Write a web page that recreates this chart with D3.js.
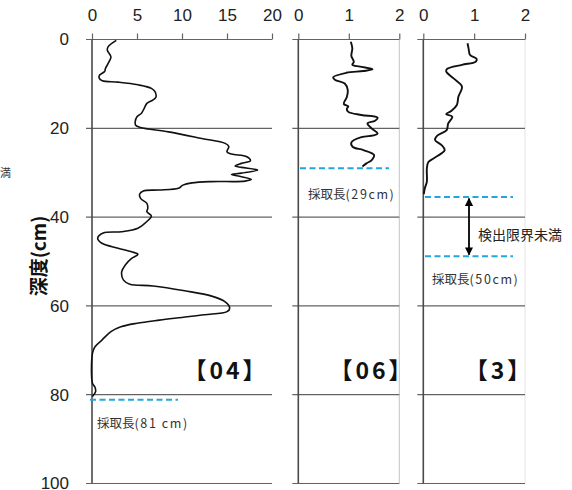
<!DOCTYPE html>
<html><head><meta charset="utf-8">
<script src="https://cdn.jsdelivr.net/npm/d3@7"></script>
<style>
html,body{margin:0;padding:0;background:#fff;}
svg{display:block;}
</style></head>
<body>
<script>
// ---- data ----
const depthTicks = [0, 20, 40, 60, 80, 100];
const ticks04 = [0, 5, 10, 15, 20];
const ticks06 = [0, 1, 2];
const ticks3 = [0, 1, 2];

const depth04 = [0.2,1.6,2.4,3.9,5,6.5,7.2,8,8.7,9.3,9.6,10.2,11,11.75,13,13.6,14.4,15.5,16.6,17.4,18.5,19.3,19.8,20.8,22.3,23.4,24.1,25.3,25.8,26.4,27.3,27.9,28.5,28.8,29.4,30.1,30.4,30.9,31.5,31.9,32.0,32.3,32.8,33.5,33.9,34.1,34.8,35.8,36.9,38,38.8,39.75,41,42.5,43.3,43.6,44.8,45.9,47,47.8,48.4,49.3,50.8,52.3,54.2,55.1,55.5,56.6,57.8,59.1,60.5,61.3,62,62.6,63.2,63.9,64.7,65.8,67.7,69.2,70.7,77.4,78.3,79.3,80.4];
const value04 = [2.7,1.8,1.7,2.1,1.9,1.5,1.4,0.85,0.8,1.15,2.9,5.1,6.6,7.0,7.1,6.8,6.1,5.8,5.5,5.0,4.8,4.85,5.4,8.5,12.2,14.8,15.2,15.0,15.5,17.2,17.6,16.6,15.9,16.6,18.4,16.6,15.5,16.6,17.7,17.0,13.3,11.1,10.1,9.6,7.4,5.7,5.3,5.4,6.1,6.2,6.1,6.6,6.1,5.1,3.3,1.25,0.63,1.1,2.9,4.4,5.1,4.4,3.7,3.3,3.5,4.2,6.8,10.3,13.3,14.8,15.3,15.0,12.5,10.0,7.5,5.0,3.2,2.1,1.1,0.33,0.05,0.05,0.33,0.4,0.05];

const depth06 = [0.5,2,3.7,5,5.7,6.1,6.7,7.1,7.5,8.5,9.1,9.9,11.4,13,14.5,15.1,15.6,16.3,17,17.6,18.3,18.9,20,21.2,21.6,22,23.2,24.2,24.9,26,27.2,27.9,28.6];
const value06 = [1.04,1.07,1.05,1.1,1.07,1.22,1.47,1.29,0.95,0.69,0.73,0.92,0.98,0.96,0.9,0.99,0.96,0.99,1.25,1.57,1.52,1.37,1.45,1.57,1.49,1.25,1.05,1.08,1.29,1.5,1.45,1.35,1.27];

const depth3 = [0.85,2,3.5,4.4,5,5.7,6.6,7.2,8.7,10.6,12.9,14.75,16.1,16.8,17.4,18.9,20.4,21.6,22.6,23.8,24.9,25.6,26.8,27.6,29,32,33.5,34.8];
const value3 = [0.87,0.89,0.92,1.05,1.03,0.76,0.47,0.45,0.59,0.76,0.69,0.66,0.55,0.45,0.57,0.49,0.46,0.28,0.23,0.36,0.42,0.36,0.2,0.1,0.07,0.07,0.03,0.01];

const sampleDepth = { p04: 81, p06: 29, p3: 48.8 };
const detectLimitTop3 = 35.5;
const panelNames = ["【04】", "【06】", "【3】"];
const sampleHeads = ["採取長", "採取長", "採取長"];
const sampleTails = ["(81 cm)", "(29cm)", "(50cm)"];
const belowLabel = "検出限界未満";
const yTitle = "深度(cm)";

// ---- drawing ----
const W = 572, H = 490;
const svg = d3.select("body").append("svg").attr("width", W).attr("height", H);
const y = d3.scaleLinear().domain([0, 100]).range([39.5, 483.5]);

const panels = [
  { x: d3.scaleLinear().domain([0, 20]).range([92, 272]), ticks: ticks04, d: depth04, v: value04, border: null },
  { x: d3.scaleLinear().domain([0, 2]).range([298.3, 399.3]), ticks: ticks06, d: depth06, v: value06, border: "#c4c4c4" },
  { x: d3.scaleLinear().domain([0, 2]).range([423.3, 525]), ticks: ticks3, d: depth3, v: value3, border: "#e4e4e4" }
];

const tickFont = "'Liberation Sans', Arial, sans-serif";
const jpFont = "'Noto Sans CJK JP', sans-serif";

panels.forEach((p, i) => {
  const g = svg.append("g");
  const x0 = p.x.range()[0], x1 = p.x.range()[1];
  if (p.border) {
    g.append("line").attr("x1", x1).attr("x2", x1).attr("y1", y(0)).attr("y2", y(100))
      .attr("stroke", p.border).attr("stroke-width", 1);
  }
  g.selectAll("line.grid").data(depthTicks).join("line").attr("class", "grid")
    .attr("x1", x0 - 6).attr("x2", x1)
    .attr("y1", d => y(d)).attr("y2", d => y(d))
    .attr("stroke", "#636363").attr("stroke-width", 1.2);
  g.append("line").attr("x1", x0).attr("x2", x0).attr("y1", y(0)).attr("y2", y(100))
    .attr("stroke", "#4a4a4a").attr("stroke-width", 1.6);
  const ax = g.append("g").attr("transform", `translate(0,${y(0)})`)
    .call(d3.axisTop(p.x).tickValues(p.ticks).tickSize(6).tickPadding(13).tickFormat(d3.format("d")));
  ax.select(".domain").remove();
  ax.selectAll(".tick line").attr("stroke", "#636363").attr("stroke-width", 1.2);
  ax.selectAll(".tick text").attr("font-family", tickFont).attr("font-size", 17).attr("fill", "#222");
  if (i === 0) {
    const ay = g.append("g").attr("transform", `translate(${x0},0)`)
      .call(d3.axisLeft(y).tickValues(depthTicks).tickSize(0).tickPadding(23));
    ay.select(".domain").remove();
    ay.selectAll(".tick text").attr("font-family", tickFont).attr("font-size", 17).attr("fill", "#222");
  }
  const line = d3.line().x((d, k) => p.x(p.v[k])).y(d => y(d)).curve(d3.curveCatmullRom.alpha(0.5));
  g.append("path").attr("d", line(p.d)).attr("fill", "none")
    .attr("stroke", "#111").attr("stroke-width", i === 0 ? 1.6 : 1.9);
});

const blue = "#21a6e0";
function dash(x1, x2, yy) {
  svg.append("line").attr("x1", x1).attr("x2", x2).attr("y1", yy).attr("y2", yy)
    .attr("stroke", blue).attr("stroke-width", 2).attr("stroke-dasharray", "6,3.5");
}
dash(90, 178, y(sampleDepth.p04) + 0.5);
dash(300, 389, y(sampleDepth.p06));
dash(425, 513, y(detectLimitTop3));
dash(425, 513, y(sampleDepth.p3));

const defs = svg.append("defs");
defs.append("marker").attr("id", "ah").attr("viewBox", "0 0 10 10").attr("refX", 9).attr("refY", 5)
  .attr("markerWidth", 4.5).attr("markerHeight", 4.5).attr("orient", "auto-start-reverse")
  .append("path").attr("d", "M0,0 L10,5 L0,10 z").attr("fill", "#000");
svg.append("line").attr("x1", 469).attr("x2", 469).attr("y1", y(detectLimitTop3) + 1.5).attr("y2", y(sampleDepth.p3) - 1.5)
  .attr("stroke", "#000").attr("stroke-width", 1.8)
  .attr("marker-start", "url(#ah)").attr("marker-end", "url(#ah)");

function txt(s, x, yy, size, opts = {}) {
  return svg.append("text").attr("x", x).attr("y", yy).text(s)
    .attr("font-family", opts.font || jpFont).attr("font-size", size)
    .attr("font-weight", opts.bold ? "bold" : "normal")
    .attr("fill", opts.fill || "#222").attr("text-anchor", opts.anchor || "start")
    .attr("letter-spacing", opts.ls || 0)
    .attr("dominant-baseline", "central");
}
function sampleLabel(k, x, yy) {
  const t = svg.append("text").attr("x", x).attr("y", yy)
    .attr("font-family", jpFont).attr("font-size", 12.5).attr("fill", "#333")
    .attr("dominant-baseline", "central");
  t.append("tspan").text(sampleHeads[k]);
  t.append("tspan").attr("letter-spacing", 1.6).text(sampleTails[k]);
}
sampleLabel(0, 97, 422);
sampleLabel(1, 308, 193);
sampleLabel(2, 432, 278);
txt(belowLabel, 478, 234, 14, { fill: "#222" });
txt(panelNames[0], 226, 369, 23, { bold: true, anchor: "middle", fill: "#111", ls: 3 });
txt(panelNames[1], 372, 369, 23, { bold: true, anchor: "middle", fill: "#111", ls: 3 });
txt(panelNames[2], 499, 369, 23, { bold: true, anchor: "middle", fill: "#111", ls: 3 });
svg.append("text").attr("transform", "translate(37,256) rotate(-90)").text(yTitle)
  .attr("font-family", jpFont).attr("font-size", 19).attr("font-weight", "bold")
  .attr("text-anchor", "middle").attr("dominant-baseline", "central").attr("fill", "#111");
txt("満", 0, 172, 11, { fill: "#333" });
</script>
</body></html>
